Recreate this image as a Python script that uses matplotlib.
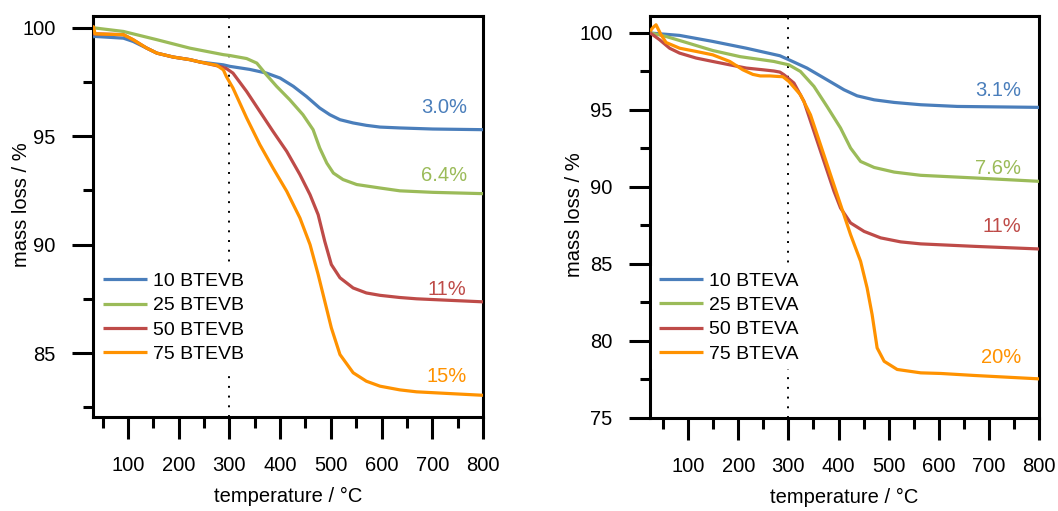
import matplotlib
matplotlib.use("Agg")
import matplotlib.pyplot as plt
from matplotlib.ticker import MultipleLocator

plt.rcParams['font.family'] = ['Liberation Sans', 'DejaVu Sans']

BLUE = '#4A7EBB'
GREEN = '#9BBB59'
RED = '#BE4B48'
ORANGE = '#FF9200'

# ---- BTEVB samples (left panel): temperature / °C, mass / % ----
b10_t = [31, 35, 91, 110, 137, 157, 189, 222, 242, 288, 301, 340, 373, 400, 426, 452, 478, 498,
         518, 544, 570, 597, 636, 701, 800]
b10_m = [99.58, 99.60, 99.52, 99.37, 99.06, 98.83, 98.65, 98.53, 98.42, 98.29, 98.22, 98.08, 97.91,
         97.68, 97.30, 96.83, 96.30, 95.99, 95.76, 95.61, 95.50, 95.42, 95.38, 95.33, 95.30]

b25_t = [31, 35, 91, 157, 222, 288, 301, 334, 354, 373, 393, 419, 445, 465, 478, 492, 505, 524,
         551, 597, 636, 701, 800]
b25_m = [100.0, 99.99, 99.83, 99.45, 99.06, 98.76, 98.72, 98.58, 98.37, 97.83, 97.30, 96.68, 95.99,
         95.30, 94.46, 93.76, 93.30, 93.0, 92.77, 92.61, 92.48, 92.41, 92.35]

b50_t = [31, 35, 91, 110, 137, 157, 189, 222, 242, 281, 294, 307, 334, 360, 386, 413, 439, 459,
         475, 488, 501, 518, 544, 570, 597, 636, 669, 734, 800]
b50_m = [99.72, 99.72, 99.68, 99.45, 99.06, 98.83, 98.65, 98.53, 98.42, 98.22, 98.12, 97.91, 97.06,
         96.14, 95.22, 94.30, 93.23, 92.30, 91.38, 90.15, 89.08, 88.47, 88.0, 87.77, 87.66, 87.56,
         87.5, 87.43, 87.36]

b75_t = [31, 32, 35, 91, 110, 137, 157, 189, 222, 242, 275, 288, 294, 307, 334, 360, 386, 413,
         439, 459, 475, 488, 501, 518, 544, 570, 597, 636, 669, 734, 800]
b75_m = [99.9, 100.05, 99.72, 99.68, 99.45, 99.06, 98.83, 98.65, 98.53, 98.42, 98.27, 98.06, 97.75,
         97.22, 95.84, 94.61, 93.53, 92.46, 91.23, 90.0, 88.62, 87.39, 86.16, 84.93, 84.09, 83.70,
         83.47, 83.30, 83.21, 83.13, 83.05]

b_labels = ['10 BTEVB', '25 BTEVB', '50 BTEVB', '75 BTEVB']
b_losses = ['3.0%', '6.4%', '11%', '15%']
b_loss_pos = [(768, 96.07), (768, 92.92), (768, 87.68), (768, 83.67)]

# ---- BTEVA samples (right panel) ----
a10_t = [24, 26, 83, 149, 216, 283, 301, 337, 377, 411, 437, 471, 511, 564, 637, 800]
a10_m = [99.98, 99.98, 99.83, 99.44, 99.0, 98.51, 98.25, 97.71, 96.95, 96.30, 95.91, 95.65, 95.48,
         95.33, 95.22, 95.16]

a25_t = [24, 56, 83, 149, 204, 271, 283, 301, 324, 351, 377, 404, 424, 444, 471, 511, 564, 671, 800]
a25_m = [100.0, 99.76, 99.5, 98.85, 98.45, 98.14, 98.05, 97.92, 97.49, 96.52, 95.22, 93.82, 92.52,
         91.65, 91.26, 90.96, 90.75, 90.58, 90.36]

a50_t = [24, 43, 63, 83, 116, 149, 183, 216, 249, 271, 283, 291, 311, 331, 351, 371, 391, 404, 424,
         451, 484, 524, 564, 671, 800]
a50_m = [100.0, 99.55, 99.0, 98.68, 98.36, 98.14, 97.92, 97.71, 97.60, 97.52, 97.45, 97.28, 96.74,
         95.55, 93.60, 91.65, 89.71, 88.63, 87.66, 87.11, 86.69, 86.43, 86.30, 86.14, 85.97]

a75_t = [24, 30, 36, 46, 56, 83, 116, 149, 183, 209, 229, 244, 263, 277, 289, 301, 324, 344, 364,
         384, 404, 424, 444, 457, 467, 477, 491, 517, 564, 604, 671, 800]
a75_m = [100.1, 100.35, 100.52, 99.87, 99.37, 99.0, 98.79, 98.57, 98.14, 97.6, 97.3, 97.2, 97.2,
         97.17, 97.15, 96.84, 95.98, 94.68, 92.74, 90.79, 88.85, 86.90, 85.17, 83.44, 81.71, 79.55,
         78.68, 78.15, 77.93, 77.89, 77.76, 77.54]

a_labels = ['10 BTEVA', '25 BTEVA', '50 BTEVA', '75 BTEVA']
a_losses = ['3.1%', '7.6%', '11%', '20%']
a_loss_pos = [(764, 95.91), (764, 90.84), (764, 87.07), (764, 78.58)]

colors = [BLUE, GREEN, RED, ORANGE]

fig = plt.figure(figsize=(10.58, 5.11), dpi=100)
ax1 = fig.add_axes([0.0879, 0.184, 0.3686, 0.785])
ax2 = fig.add_axes([0.6144, 0.182, 0.3677, 0.787])


def draw_panel(ax, series, labels, losses, loss_pos, xlim, ylim, ymajor, legend_anchor):
    for (t, m), lab, c in zip(series, labels, colors):
        ax.plot(t, m, color=c, lw=2.3, label=lab, solid_capstyle='butt',
                solid_joinstyle='round', zorder=3)
    ax.axvline(300, color='black', lw=1.4, linestyle=(0, (1, 4)), zorder=1)
    for txt, (x, y), c in zip(losses, loss_pos, colors):
        ax.text(x, y, txt, color=c, fontsize=14.5, ha='right', va='baseline')
    ax.set_xlim(*xlim)
    ax.set_ylim(*ylim)
    ax.xaxis.set_major_locator(MultipleLocator(100))
    ax.xaxis.set_minor_locator(MultipleLocator(50))
    ax.yaxis.set_major_locator(MultipleLocator(ymajor))
    ax.yaxis.set_minor_locator(MultipleLocator(ymajor / 2))
    ax.tick_params(which='major', direction='out', length=16, width=2.2,
                   labelsize=14.5, pad=12)
    ax.tick_params(which='minor', direction='out', length=8, width=2.2)
    ax.tick_params(axis='y', which='major', length=15)
    ax.tick_params(axis='y', which='minor', length=7.5)
    for s in ax.spines.values():
        s.set_linewidth(2.2)
    ax.set_xlabel('temperature / °C', fontsize=14.5, labelpad=9)
    ax.set_ylabel('mass loss / %', fontsize=14.5)
    leg = ax.legend(loc='upper left', bbox_to_anchor=legend_anchor, borderaxespad=0,
                    fontsize=14, frameon=True, fancybox=False, handlelength=2.26,
                    handletextpad=0.31, labelspacing=0.34, borderpad=0.35)
    leg.get_frame().set_facecolor('white')
    leg.get_frame().set_edgecolor('none')
    leg.get_frame().set_alpha(1)
    leg.set_zorder(5)
    for h in leg.get_lines():
        h.set_linewidth(2.3)


draw_panel(ax1, [(b10_t, b10_m), (b25_t, b25_m), (b50_t, b50_m), (b75_t, b75_m)],
           b_labels, b_losses, b_loss_pos, (31, 800), (82.05, 100.55), 5, (0.008, 0.377))
draw_panel(ax2, [(a10_t, a10_m), (a25_t, a25_m), (a50_t, a50_m), (a75_t, a75_m)],
           a_labels, a_losses, a_loss_pos, (24, 800), (75, 101.1), 5, (0.005, 0.379))

ax1.yaxis.set_label_coords(-0.16, 0.53)
ax2.yaxis.set_label_coords(-0.17, 0.505)

fig.savefig('out.png', dpi=100)
